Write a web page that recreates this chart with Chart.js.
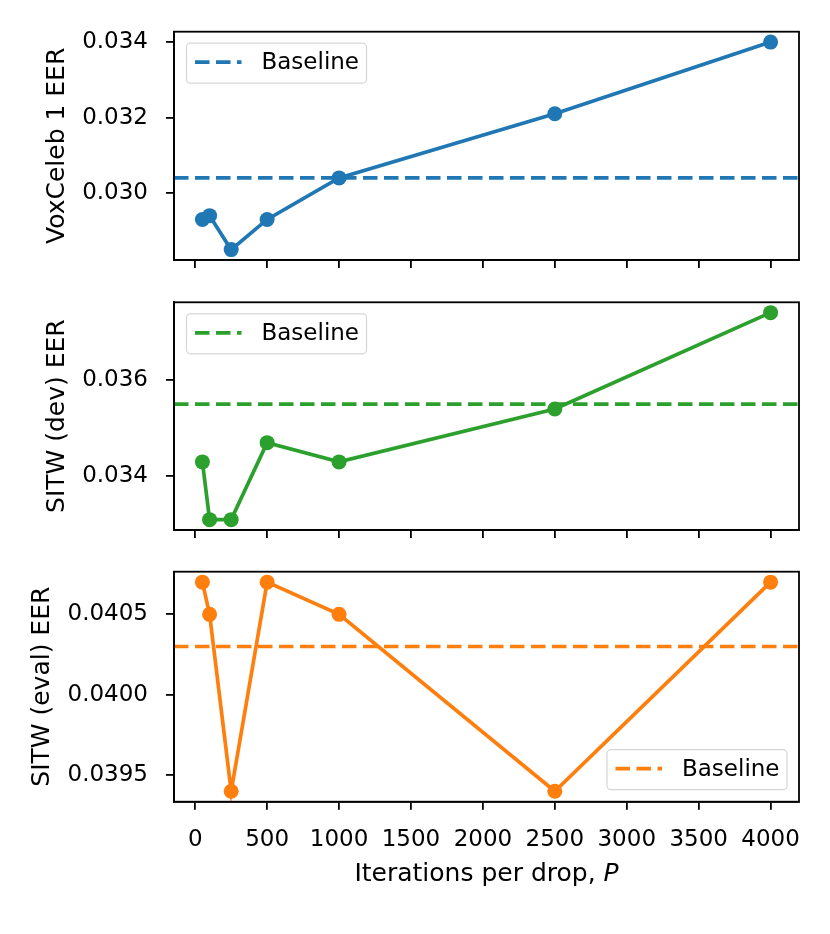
<!DOCTYPE html>
<html>
<head>
<meta charset="utf-8">
<script src="https://cdn.jsdelivr.net/npm/chart.js@4.4.0/dist/chart.umd.min.js"></script>
<style>
  html, body { margin: 0; padding: 0; background: #fff; }
  #fig { position: relative; width: 830px; height: 934px; background: #fff; }
  .panel { position: absolute; left: 0; width: 830px; }
</style>
</head>
<body>
<div id="fig">
  <div class="panel" style="top:0;height:280px"><canvas id="c1"></canvas></div>
  <div class="panel" style="top:280px;height:270px"><canvas id="c2"></canvas></div>
  <div class="panel" style="top:550px;height:384px"><canvas id="c3"></canvas></div>
</div>
<script>
// data
const iters = [50, 100, 250, 500, 1000, 2500, 4000];
const voxEER = [0.0293, 0.0294, 0.0285, 0.0293, 0.0304, 0.0321, 0.0340];
const devEER = [0.0343, 0.0331, 0.0331, 0.0347, 0.0343, 0.0354, 0.0374];
const evalEER = [0.0407, 0.0405, 0.0394, 0.0407, 0.0405, 0.0394, 0.0407];
const voxBase = 0.0304;
const devBase = 0.0355;
const evalBase = 0.0403;

const xTicks = [0, 500, 1000, 1500, 2000, 2500, 3000, 3500, 4000];
const voxTicks = [0.030, 0.032, 0.034];
const devTicks = [0.034, 0.036];
const evalTicks = [0.0395, 0.0400, 0.0405];

const FONT = '"DejaVu Sans", "Liberation Sans", sans-serif';
const TICK_SIZE = 23;
const LABEL_SIZE = 25;

// matplotlib style 5% margins
function limits(vals) {
  const lo = Math.min(...vals), hi = Math.max(...vals);
  const pad = (hi - lo) * 0.05;
  return [lo - pad, hi + pad];
}
const [xMin, xMax] = limits(iters);

const framePlugin = {
  id: 'frame',
  afterDraw(chart, args, opts) {
    const { ctx, chartArea: a } = chart;
    ctx.save();
    ctx.strokeStyle = '#000';
    ctx.lineWidth = 1.8;
    ctx.strokeRect(a.left, a.top, a.right - a.left, a.bottom - a.top);

    // y label, placed left of the widest tick label
    ctx.font = TICK_SIZE + 'px ' + FONT;
    let maxW = 0;
    chart.scales.y.ticks.forEach(t => {
      maxW = Math.max(maxW, ctx.measureText(String(t.label)).width);
    });
    const lx = a.left - 8 - 18 - maxW - 25;
    ctx.font = LABEL_SIZE + 'px ' + FONT;
    ctx.fillStyle = '#000';
    ctx.save();
    ctx.translate(lx, (a.top + a.bottom) / 2);
    ctx.rotate(-Math.PI / 2);
    ctx.textAlign = 'center';
    ctx.textBaseline = 'middle';
    ctx.fillText(opts.ylabel, 0, 0);
    ctx.restore();

    // legend box inside the axes
    const ds = chart.data.datasets[1];
    const w = 180, h = 40;
    let x0, y0;
    if (opts.corner === 'tl') { x0 = a.left + 12.5; y0 = a.top + 11.5; }
    else { x0 = a.right - 12 - w; y0 = a.bottom - 12 - h; }
    ctx.beginPath();
    ctx.roundRect(x0, y0, w, h, 4);
    ctx.fillStyle = 'rgba(255,255,255,0.8)';
    ctx.fill();
    ctx.strokeStyle = 'rgba(204,204,204,0.8)';
    ctx.lineWidth = 1.2;
    ctx.stroke();
    ctx.beginPath();
    ctx.setLineDash(ds.borderDash);
    ctx.strokeStyle = ds.borderColor;
    ctx.lineWidth = ds.borderWidth;
    ctx.moveTo(x0 + 8.5, y0 + h / 2 - 1);
    ctx.lineTo(x0 + 55, y0 + h / 2 - 1);
    ctx.stroke();
    ctx.setLineDash([]);
    ctx.fillStyle = '#000';
    ctx.font = TICK_SIZE + 'px ' + FONT;
    ctx.textAlign = 'left';
    ctx.textBaseline = 'middle';
    ctx.fillText(ds.label, x0 + 75, y0 + h / 2);

    // x label with italic P
    if (opts.xlabel) {
      const t1 = 'Iterations per drop, ';
      const t2 = 'P';
      ctx.font = LABEL_SIZE + 'px ' + FONT;
      const w1 = ctx.measureText(t1).width;
      ctx.font = 'italic ' + LABEL_SIZE + 'px ' + FONT;
      const w2 = ctx.measureText(t2).width;
      const sx = (a.left + a.right) / 2 - (w1 + w2) / 2;
      const by = a.bottom + 79.5;
      ctx.textAlign = 'left';
      ctx.textBaseline = 'alphabetic';
      ctx.font = LABEL_SIZE + 'px ' + FONT;
      ctx.fillText(t1, sx, by);
      ctx.font = 'italic ' + LABEL_SIZE + 'px ' + FONT;
      ctx.fillText(t2, sx + w1, by);
    }
    ctx.restore();
  }
};

const axisLine = { display: true, color: '#000', width: 1.8 };
const tickGrid = {
  drawOnChartArea: false, drawTicks: true, tickLength: 8,
  color: '#000', tickColor: '#000', lineWidth: 1.8, tickWidth: 1.8
};

function makePanel(id, values, base, color, yTicks, digits, ylabel, corner, padTop, xHeight, showX) {
  const [yMin, yMax] = limits(values.concat([base]));
  return new Chart(document.getElementById(id), {
    type: 'line',
    data: {
      datasets: [{
        label: ylabel,
        data: iters.map((x, i) => ({ x: x, y: values[i] })),
        borderColor: color,
        backgroundColor: color,
        borderWidth: 3.7,
        pointRadius: 7.5,
        pointHoverRadius: 7.5,
        pointBorderWidth: 0,
        pointBackgroundColor: color,
        tension: 0
      }, {
        label: 'Baseline',
        data: [{ x: xMin, y: base }, { x: xMax, y: base }],
        borderColor: color,
        borderWidth: 3.7,
        borderDash: [14.5, 6.5],
        pointRadius: 0,
        pointHoverRadius: 0
      }]
    },
    options: {
      responsive: true,
      maintainAspectRatio: false,
      animation: false,
      events: [],
      layout: { padding: { top: padTop, right: 31, bottom: 0, left: 0 } },
      plugins: {
        legend: { display: false },
        tooltip: { enabled: false },
        frame: { ylabel: ylabel, corner: corner, xlabel: showX }
      },
      scales: {
        x: {
          type: 'linear', min: xMin, max: xMax,
          afterBuildTicks: s => { s.ticks = xTicks.map(v => ({ value: v })); },
          ticks: {
            display: showX, color: '#000', padding: 17, maxRotation: 0, autoSkip: false,
            font: { family: FONT, size: TICK_SIZE },
            callback: v => String(v)
          },
          grid: tickGrid,
          border: axisLine,
          afterFit: s => { s.height = xHeight; s.paddingLeft = 0; s.paddingRight = 0; }
        },
        y: {
          type: 'linear', min: yMin, max: yMax,
          afterBuildTicks: s => { s.ticks = yTicks.map(v => ({ value: v })); },
          ticks: {
            color: '#000', padding: 18, autoSkip: false,
            font: { family: FONT, size: TICK_SIZE },
            callback: v => v.toFixed(digits)
          },
          grid: tickGrid,
          border: axisLine,
          afterFit: s => { s.width = 174; s.paddingTop = 0; s.paddingBottom = 0; }
        }
      }
    },
    plugins: [framePlugin]
  });
}

makePanel('c1', voxEER, voxBase, '#1f77b4', voxTicks, 3, 'VoxCeleb 1 EER', 'tl', 31.7, 20, false);
makePanel('c2', devEER, devBase, '#2ca02c', devTicks, 3, 'SITW (dev) EER', 'tl', 22.3, 20, false);
makePanel('c3', evalEER, evalBase, '#ff7f0e', evalTicks, 4, 'SITW (eval) EER', 'br', 21.7, 132.3, true);
</script>
</body>
</html>
